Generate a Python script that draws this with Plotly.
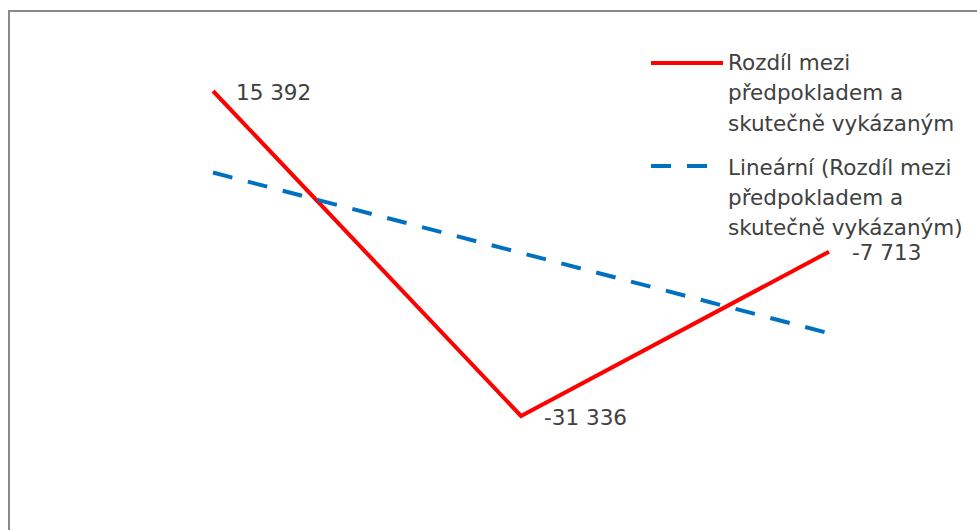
import numpy as np
import plotly.graph_objects as go

categories = ["1", "2", "3"]
values = [15392, -31336, -7713]
series_name = ["Rozdíl mezi", "předpokladem a", "skutečně vykázaným"]
trend_name = ["Lineární (Rozdíl mezi", "předpokladem a", "skutečně vykázaným)"]

W, H = 977, 530
def px(x): return x / W
def py(y): return 1 - y / H

idx = np.arange(len(values))
slope, intercept = np.polyfit(idx, values, 1)
trend = (slope * idx + intercept).tolist()

def fmt(v):
    s = f"{abs(v):,}".replace(",", " ")
    return ("-" if v < 0 else "") + s

fig = go.Figure()
fig.add_trace(go.Scatter(x=categories, y=values, mode="lines",
                         line=dict(color="#FF0000", width=4), showlegend=False))
fig.add_trace(go.Scatter(x=categories, y=trend, mode="lines",
                         line=dict(color="#0070C0", width=4, dash="20px,16px"), showlegend=False))

font = dict(family="DejaVu Sans, sans-serif", size=21.5, color="#404040")
ann = []
for i, v in enumerate(values):
    ann.append(dict(x=i, y=v, xref="x", yref="y", text=fmt(v), showarrow=False,
                    xanchor="left", yanchor="middle", xshift=21, yshift=-1, font=font))

for i, t in enumerate(series_name):
    ann.append(dict(x=px(726), y=py(63 + 30 * i), xref="paper", yref="paper", text=t,
                    showarrow=False, xanchor="left", yanchor="middle", font=font))
for i, t in enumerate(trend_name):
    ann.append(dict(x=px(726), y=py(167 + 30 * i), xref="paper", yref="paper", text=t,
                    showarrow=False, xanchor="left", yanchor="middle", font=font))

shapes = [
    dict(type="rect", xref="paper", yref="paper", x0=px(9), y0=-0.05, x1=1.05, y1=py(11),
         line=dict(color="#898989", width=2), fillcolor="rgba(0,0,0,0)", layer="below"),
    dict(type="line", xref="paper", yref="paper", x0=px(651), x1=px(723), y0=py(63), y1=py(63),
         line=dict(color="#FF0000", width=4)),
    dict(type="line", xref="paper", yref="paper", x0=px(651), x1=px(723), y0=py(166), y1=py(166),
         line=dict(color="#0070C0", width=4, dash="20px,16px")),
]

fig.update_layout(
    width=W, height=H, margin=dict(l=0, r=0, t=0, b=0),
    paper_bgcolor="white", plot_bgcolor="white",
    xaxis=dict(type="category", range=[-0.6916, 2.4805], visible=False, fixedrange=True),
    yaxis=dict(range=[-47726.5, 28475.8], visible=False, fixedrange=True),
    annotations=ann, shapes=shapes, showlegend=False,
)
fig.write_html("out.html")
